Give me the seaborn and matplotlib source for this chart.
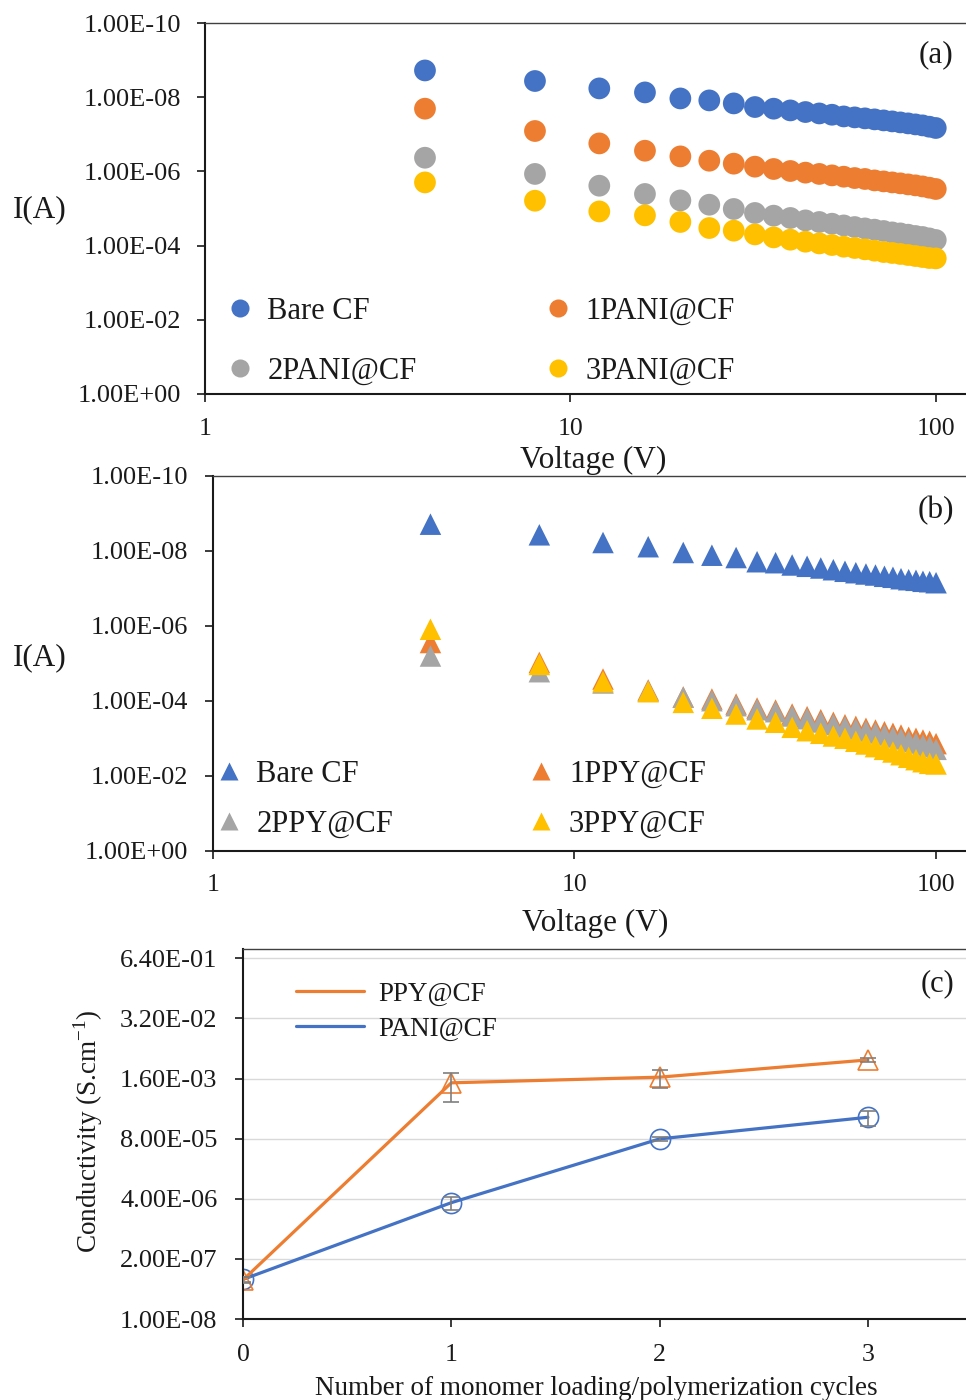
import matplotlib
matplotlib.use("Agg")
import matplotlib.pyplot as plt
import seaborn as sns
import pandas as pd
from matplotlib.lines import Line2D
from matplotlib.ticker import NullLocator

# ---- data ----
voltage = [4, 8, 12, 16, 20, 24, 28, 32, 36, 40, 44, 48, 52,
           56, 60, 64, 68, 72, 76, 80, 84, 88, 92, 96, 100]

# (a) PANI coated fibres, current (A)
bare_a = [1.90e-9, 3.66e-9, 5.79e-9, 7.43e-9, 1.08e-8, 1.22e-8, 1.47e-8, 1.84e-8, 2.04e-8,
          2.27e-8, 2.51e-8, 2.74e-8, 2.97e-8, 3.30e-8, 3.50e-8, 3.72e-8, 3.96e-8, 4.22e-8,
          4.49e-8, 4.78e-8, 5.08e-8, 5.41e-8, 5.75e-8, 6.24e-8, 6.76e-8]
pani1 = [2.04e-8, 8.15e-8, 1.76e-7, 2.77e-7, 3.94e-7, 5.15e-7, 6.19e-7, 7.46e-7, 8.61e-7,
         9.75e-7, 1.08e-6, 1.17e-6, 1.28e-6, 1.39e-6, 1.51e-6, 1.60e-6, 1.75e-6, 1.86e-6,
         1.98e-6, 2.10e-6, 2.24e-6, 2.38e-6, 2.54e-6, 2.75e-6, 2.98e-6]
pani2 = [4.28e-7, 1.17e-6, 2.43e-6, 4.06e-6, 6.05e-6, 7.91e-6, 1.03e-5, 1.32e-5, 1.56e-5,
         1.80e-5, 2.09e-5, 2.31e-5, 2.57e-5, 2.86e-5, 3.16e-5, 3.44e-5, 3.72e-5, 4.04e-5,
         4.41e-5, 4.69e-5, 5.08e-5, 5.51e-5, 5.86e-5, 6.40e-5, 7.06e-5]
pani3 = [1.98e-6, 6.17e-6, 1.20e-5, 1.53e-5, 2.31e-5, 3.36e-5, 3.96e-5, 4.99e-5, 6.01e-5,
         6.93e-5, 7.85e-5, 8.73e-5, 9.64e-5, 1.07e-4, 1.16e-4, 1.26e-4, 1.37e-4, 1.49e-4,
         1.58e-4, 1.68e-4, 1.79e-4, 1.91e-4, 2.03e-4, 2.16e-4, 2.21e-4]

# (b) PPY coated fibres, current (A)
bare_b = [1.93e-9, 3.71e-9, 5.96e-9, 7.71e-9, 1.10e-8, 1.30e-8, 1.50e-8, 1.94e-8, 2.06e-8,
          2.37e-8, 2.57e-8, 2.85e-8, 3.17e-8, 3.49e-8, 3.81e-8, 4.12e-8, 4.39e-8, 4.75e-8,
          5.05e-8, 5.51e-8, 5.86e-8, 6.08e-8, 6.46e-8, 6.62e-8, 7.05e-8]
ppy1 = [2.78e-6, 9.48e-6, 2.62e-5, 5.14e-5, 7.91e-5, 8.93e-5, 1.22e-4, 1.56e-4, 1.76e-4,
        2.25e-4, 2.65e-4, 3.19e-4, 3.74e-4, 4.34e-4, 4.79e-4, 5.41e-4, 6.01e-4, 6.67e-4,
        7.36e-4, 8.17e-4, 9.42e-4, 1.00e-3, 1.11e-3, 1.20e-3, 1.39e-3]
ppy2 = [6.37e-6, 1.67e-5, 3.34e-5, 5.47e-5, 8.05e-5, 9.93e-5, 1.35e-4, 1.73e-4, 1.95e-4,
        2.54e-4, 3.00e-4, 3.67e-4, 4.29e-4, 5.00e-4, 5.65e-4, 6.40e-4, 7.23e-4, 8.17e-4,
        9.25e-4, 1.04e-3, 1.22e-3, 1.34e-3, 1.51e-3, 1.66e-3, 1.97e-3]
ppy3 = [1.23e-6, 1.07e-5, 3.09e-5, 5.71e-5, 1.10e-4, 1.58e-4, 2.25e-4, 3.05e-4, 3.74e-4,
        5.09e-4, 6.27e-4, 7.36e-4, 8.69e-4, 1.00e-3, 1.20e-3, 1.42e-3, 1.67e-3, 1.97e-3,
        2.32e-3, 2.74e-3, 3.21e-3, 3.72e-3, 4.22e-3, 4.66e-3, 4.85e-3]

# (c) conductivity vs cycles
cycles = [0, 1, 2, 3]
ppy_cond = [7.0e-8, 1.29e-3, 1.71e-3, 4.04e-3]
ppy_err = [1.1e-8, 7.9e-4, 7.0e-4, 3.5e-4]
pani_cond = [7.2e-8, 3.29e-6, 7.9e-5, 2.32e-4]
pani_err = [1.0e-8, 1.0e-6, 8.0e-6, 8.0e-5]

current_ticks = [1e-10, 1e-8, 1e-6, 1e-4, 1e-2, 1e0]
voltage_ticks = [1, 10, 100]
cond_ticks = [1e-8, 2e-7, 4e-6, 8e-5, 1.6e-3, 3.2e-2, 6.4e-1]

labels_a = ["Bare CF", "1PANI@CF", "2PANI@CF", "3PANI@CF"]
labels_b = ["Bare CF", "1PPY@CF", "2PPY@CF", "3PPY@CF"]

BLUE, ORANGE, GRAY, GOLD = "#4472C4", "#ED7D31", "#A5A5A5", "#FFC000"
colors = [BLUE, ORANGE, GRAY, GOLD]
TXT = "#1a1a1a"

sns.set_theme(style="ticks")
plt.rcParams["font.family"] = ["Liberation Serif", "DejaVu Serif"]
plt.rcParams["text.color"] = TXT
plt.rcParams["axes.labelcolor"] = TXT

W, H = 966, 1400
fig = plt.figure(figsize=(W / 100, H / 100), dpi=100)


def px_axes(left, top, right, bottom):
    return fig.add_axes([left / W, 1 - bottom / H, (right - left) / W, (bottom - top) / H])


def frame(ax, ypad, xpad):
    for s in ["left", "bottom"]:
        ax.spines[s].set_linewidth(1.5)
        ax.spines[s].set_color(TXT)
    ax.spines["top"].set_linewidth(1.0)
    ax.spines["top"].set_color("#404040")
    ax.spines["right"].set_visible(False)
    ax.xaxis.set_minor_locator(NullLocator())
    ax.yaxis.set_minor_locator(NullLocator())
    ax.tick_params(axis="y", which="major", length=6, width=1.2, pad=ypad, labelsize=19, colors=TXT)
    ax.tick_params(axis="x", which="major", length=6, width=1.2, pad=xpad, labelsize=18.5, colors=TXT)


def iv_panel(ax, values, labels, marker, size, letter, leg_ms, leg_y, leg_x, lspace, cspace):
    df = pd.DataFrame({
        "V": voltage * len(values),
        "I": sum(values, []),
        "sample": sum([[lab] * len(voltage) for lab in labels], []),
    })
    ax.set_xscale("log")
    ax.set_yscale("log")
    sns.scatterplot(data=df, x="V", y="I", hue="sample", palette=dict(zip(labels, colors)),
                    marker=marker, s=size, linewidth=0, legend=False, ax=ax, clip_on=False)
    ax.set_xlim(1, 121)
    ax.set_ylim(1e0, 1e-10)
    ax.set_xticks(voltage_ticks)
    ax.set_xticklabels([str(v) for v in voltage_ticks])
    ax.set_yticks(current_ticks)
    ax.set_yticklabels(["%.2E" % v for v in current_ticks])
    ax.set_xlabel("Voltage (V)", fontsize=22.5)
    ax.set_ylabel("I(A)", fontsize=22.5, rotation=0, ha="center", va="center")
    ax.text(0.96, letter, "(%s)" % ("a" if "PANI" in labels[1] else "b"), transform=ax.transAxes,
            ha="center", va="center", fontsize=22.5)
    handles = [Line2D([], [], ls="none", marker=marker, ms=leg_ms, mfc=c, mec="none", label=lab)
               for lab, c in zip(labels, colors)]
    order = [0, 2, 1, 3]
    ax.legend([handles[i] for i in order], [labels[i] for i in order], ncol=2, frameon=False,
              loc="upper left", bbox_to_anchor=(leg_x, leg_y), borderaxespad=0, borderpad=0,
              handlelength=1.0, handletextpad=0.4, labelspacing=lspace, columnspacing=cspace,
              prop={"size": 22})


# (a)
ax_a = px_axes(205, 23, W, 394)
iv_panel(ax_a, [bare_a, pani1, pani2, pani3], labels_a, "o", 245, 0.914, 13, 0.262, 0.0256, 1.0, 4.13)
frame(ax_a, 11.5, 11.5)
ax_a.xaxis.set_label_coords(0.51, -0.139)
ax_a.yaxis.set_label_coords(-0.217, 0.496)

# (b)
ax_b = px_axes(212.7, 476, W, 850.7)
iv_panel(ax_b, [bare_b, ppy1, ppy2, ppy3], labels_b, "^", 240, 0.908, 13, 0.242, 0.001, 0.68, 4.36)
frame(ax_b, 12, 10.5)
ax_b.xaxis.set_label_coords(0.5075, -0.156)
ax_b.yaxis.set_label_coords(-0.229, 0.516)

# (c)
ax_c = px_axes(243, 949.3, W, 1319)
ax_c.set_yscale("log")
ax_c.yaxis.grid(True, color="#d9d9d9", lw=1.0)
ax_c.set_axisbelow(True)
sns.lineplot(x=cycles, y=pani_cond, color=BLUE, lw=2.3, marker="o", ms=14.5, mfc="none",
             mec=BLUE, mew=1.2, ax=ax_c, legend=False)
sns.lineplot(x=cycles, y=ppy_cond, color=ORANGE, lw=2.3, marker="^", ms=14.5, mfc="none",
             mec=ORANGE, mew=1.2, ax=ax_c, legend=False)
for yv, ye in [(pani_cond, pani_err), (ppy_cond, ppy_err)]:
    ax_c.errorbar(cycles, yv, yerr=ye, fmt="none", ecolor="#7f7f7f", elinewidth=1.2,
                  capsize=5.5, capthick=1.2, zorder=3)
ax_c.set_xlim(0, 3.471)
ax_c.set_ylim(1e-8, 1.0)
ax_c.set_xticks(cycles)
ax_c.set_xticklabels([str(c) for c in cycles])
ax_c.set_yticks(cond_ticks)
ax_c.set_yticklabels(["%.2E" % v for v in cond_ticks])
frame(ax_c, 12.5, 12)
ax_c.set_xlabel("Number of monomer loading/polymerization cycles", fontsize=19.5)
ax_c.set_ylabel(r"Conductivity (S.cm$^{\mathregular{-1}}$)", fontsize=19.5, ha="center", va="center")
ax_c.xaxis.set_label_coords(0.488, -0.154)
ax_c.yaxis.set_label_coords(-0.215, 0.5085)
ax_c.text(0.96, 0.906, "(c)", transform=ax_c.transAxes, ha="center", va="center", fontsize=22)
leg_c = [Line2D([], [], color=ORANGE, lw=2.3, label="PPY@CF"),
         Line2D([], [], color=BLUE, lw=2.3, label="PANI@CF")]
ax_c.legend(handles=leg_c, frameon=False, loc="upper left", bbox_to_anchor=(0.0733, 0.912),
            borderaxespad=0, borderpad=0, handlelength=2.5, handletextpad=0.55,
            labelspacing=0.37, prop={"size": 19.5})

fig.savefig("out.png", dpi=100)
